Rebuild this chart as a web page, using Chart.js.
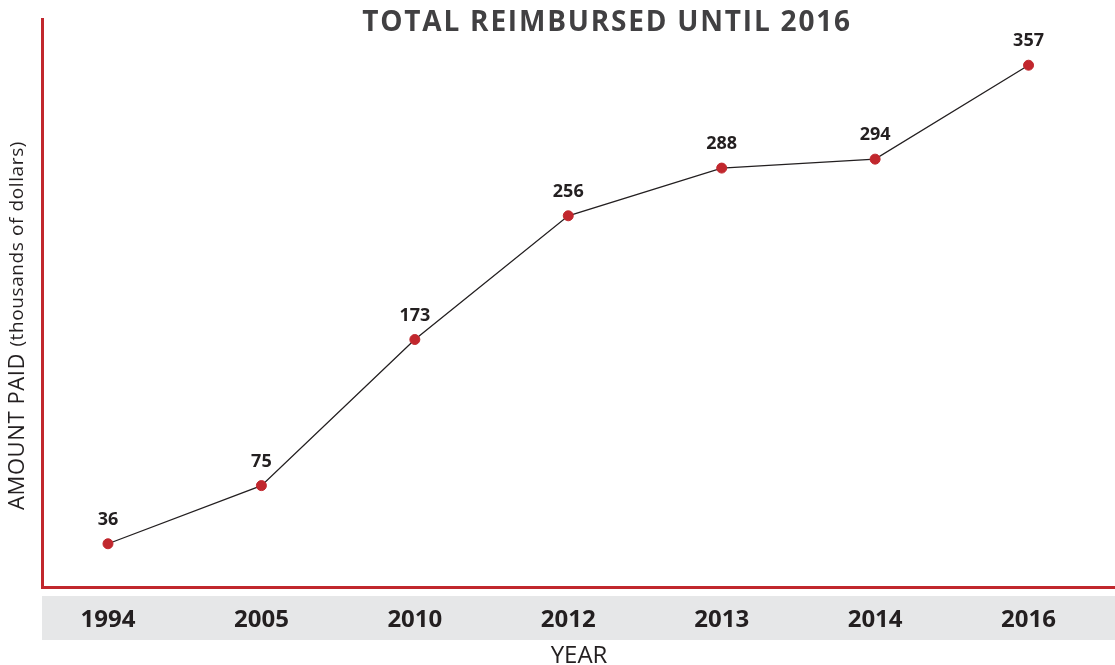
<!DOCTYPE html>
<html lang="en">

<head>
    <meta charset="UTF-8">
    <title>Total Reimbursed Until 2016</title>
    <script src="https://cdn.jsdelivr.net/npm/chart.js"></script>
    <style>
        html, body { margin: 0; background: #ffffff; overflow: hidden; }
        /* canvas is a few px wider than the window so the plot reaches the right edge
           (chart.js keeps room for the last point's radius) */
        #wrap { width: 1122px; height: 665px; }
    </style>
</head>

<body>
    <div id="wrap">
        <canvas id="lineChart" width="1122" height="665"></canvas>
    </div>

    <script>
        // values
        const years = ['1994', '2005', '2010', '2012', '2013', '2014', '2016'];
        const amounts = [36, 75, 173, 256, 288, 294, 357];

        const FONT = "'Open Sans', 'Liberation Sans', sans-serif";
        const RED = '#c1272d';
        const INK = '#231f20';

        // gray band under the axis, chart title, value labels and the y title
        const decorations = {
            id: 'decorations',
            beforeDraw(chart) {
                const { ctx, chartArea } = chart;
                ctx.save();
                ctx.fillStyle = '#e6e7e8';
                ctx.fillRect(chartArea.left, chartArea.bottom + 9, chart.width - chartArea.left, 44);
                ctx.restore();
            },
            afterDraw(chart) {
                const { ctx } = chart;
                ctx.save();

                // title
                ctx.fillStyle = '#414042';
                ctx.font = "700 28px " + FONT;
                ctx.letterSpacing = '1.8px';
                ctx.textAlign = 'center';
                ctx.textBaseline = 'middle';
                ctx.fillText('TOTAL REIMBURSED UNTIL 2016', 607, 23);

                // value labels over the points
                const meta = chart.getDatasetMeta(0);
                ctx.letterSpacing = '0px';
                ctx.fillStyle = INK;
                ctx.font = "700 18px " + FONT;
                meta.data.forEach((pt, i) => {
                    ctx.fillText(String(amounts[i]), pt.x, pt.y - 24);
                });

                // y axis title, two sizes
                ctx.translate(18, 510);
                ctx.rotate(-Math.PI / 2);
                ctx.textAlign = 'left';
                ctx.letterSpacing = '0.6px';
                ctx.font = "400 22px " + FONT;
                const part1 = 'AMOUNT PAID ';
                ctx.fillText(part1, 0, 0);
                const w = ctx.measureText(part1).width;
                ctx.font = "400 19px " + FONT;
                ctx.fillText('(thousands of dollars)', w, 0);

                ctx.restore();
            }
        };

        const ctx = document.getElementById('lineChart').getContext('2d');
        new Chart(ctx, {
            type: 'line',
            data: {
                datasets: [{
                    data: amounts.map((v, i) => ({ x: i, y: v })),
                    borderColor: '#231f20',
                    borderWidth: 1.3,
                    pointBackgroundColor: RED,
                    pointBorderColor: RED,
                    pointRadius: 5,
                    pointBorderWidth: 1,
                    tension: 0
                }]
            },
            options: {
                responsive: false,
                animation: false,
                layout: {
                    padding: { left: 42, top: 19, right: 0, bottom: 0 }
                },
                plugins: {
                    legend: { display: false },
                    tooltip: { enabled: false }
                },
                scales: {
                    x: {
                        type: 'linear',
                        min: -0.43,
                        max: 6.57,
                        afterBuildTicks: (scale) => {
                            scale.ticks = years.map((_, i) => ({ value: i }));
                        },
                        grid: { display: false, drawTicks: false },
                        border: { color: RED, width: 3 },
                        ticks: {
                            padding: 21,
                            maxRotation: 0,
                            color: INK,
                            font: { family: FONT, size: 24, weight: '700', lineHeight: 1 },
                            callback: (v) => years[v]
                        },
                        title: {
                            display: true,
                            text: 'YEAR',
                            color: INK,
                            font: { family: FONT, size: 24, weight: '400', lineHeight: 1 },
                            padding: { top: -9, bottom: -3 }
                        }
                    },
                    y: {
                        min: 7,
                        max: 388,
                        grid: { display: false, drawTicks: false },
                        border: { color: RED, width: 3 },
                        ticks: { display: false }
                    }
                }
            },
            plugins: [decorations]
        });
    </script>
</body>

</html>
